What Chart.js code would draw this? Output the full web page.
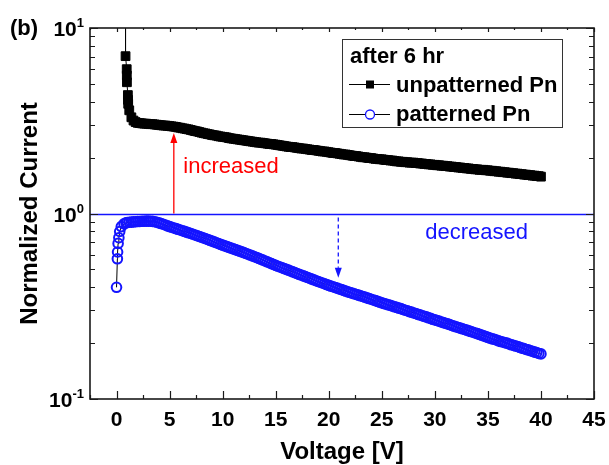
<!DOCTYPE html>
<html>
<head>
<meta charset="utf-8">
<script src="https://cdn.jsdelivr.net/npm/chart.js@4.4.0/dist/chart.umd.min.js"></script>
<style>
  html, body { margin: 0; padding: 0; background: #fff; }
  #wrap { width: 609px; height: 465px; }
</style>
</head>
<body>
<div id="wrap"><canvas id="c" width="609" height="465"></canvas></div>
<script>
// ---- data ----
// first points of each sweep (finer spacing near 0 V)
const unpatEarlyV = [0.85, 0.85, 0.96, 0.97, 0.98, 1.07, 1.08, 1.1];
const unpatEarlyI = [15, 7.05, 6.0, 5.55, 5.1, 4.35, 4.1, 3.9];
const patEarlyV = [0, 0.08, 0.1, 0.15, 0.22, 0.3, 0.45, 0.7, 0.9, 1.0];
const patEarlyI = [0.40, 0.57, 0.62, 0.69, 0.74, 0.80, 0.85, 0.88, 0.89, 0.895];

// regular sweep: 1.2 V .. 40 V in 0.2 V steps
const gridStart = 1.2;
const gridStep = 0.2;

const unpatI = [
  3.60, 3.30, 3.17, 3.11, 3.08,
  3.07, 3.06, 3.05, 3.05, 3.04,
  3.03, 3.03, 3.02, 3.01, 3.00,
  2.99, 2.98, 2.98, 2.97, 2.96,
  2.95, 2.94, 2.93, 2.91, 2.90,
  2.88, 2.87, 2.85, 2.84, 2.82,
  2.80, 2.78, 2.77, 2.75, 2.73,
  2.71, 2.70, 2.68, 2.67, 2.65,
  2.64, 2.63, 2.61, 2.60, 2.59,
  2.58, 2.57, 2.55, 2.54, 2.53,
  2.52, 2.51, 2.50, 2.49, 2.48,
  2.47, 2.46, 2.45, 2.44, 2.43,
  2.42, 2.41, 2.41, 2.40, 2.39,
  2.38, 2.37, 2.37, 2.36, 2.35,
  2.34, 2.33, 2.32, 2.31, 2.30,
  2.29, 2.28, 2.28, 2.27, 2.26,
  2.25, 2.24, 2.24, 2.23, 2.22,
  2.21, 2.20, 2.20, 2.19, 2.18,
  2.17, 2.16, 2.16, 2.15, 2.14,
  2.13, 2.12, 2.12, 2.11, 2.10,
  2.09, 2.08, 2.08, 2.07, 2.06,
  2.05, 2.04, 2.04, 2.03, 2.02,
  2.01, 2.01, 2.00, 1.99, 1.99,
  1.98, 1.97, 1.97, 1.96, 1.96,
  1.95, 1.94, 1.94, 1.93, 1.93,
  1.92, 1.91, 1.91, 1.90, 1.90,
  1.89, 1.89, 1.88, 1.88, 1.88,
  1.87, 1.87, 1.86, 1.86, 1.85,
  1.85, 1.84, 1.84, 1.83, 1.83,
  1.82, 1.82, 1.81, 1.81, 1.80,
  1.80, 1.79, 1.79, 1.78, 1.78,
  1.77, 1.77, 1.76, 1.76, 1.75,
  1.75, 1.74, 1.74, 1.73, 1.73,
  1.72, 1.72, 1.72, 1.71, 1.71,
  1.70, 1.70, 1.69, 1.69, 1.68,
  1.68, 1.67, 1.67, 1.66, 1.66,
  1.65, 1.65, 1.64, 1.64, 1.63,
  1.63, 1.62, 1.62, 1.61, 1.61,
  1.60, 1.60, 1.59, 1.59, 1.58
];

const patI = [
  .897, .899, .901, .903, .905,
  .906, .908, .909, .910, .910,
  .909, .907, .903, .897, .890,
  .883, .875, .867, .858, .850,
  .843, .836, .829, .822, .815,
  .808, .801, .794, .787, .780,
  .773, .766, .759, .752, .745,
  .738, .731, .724, .717, .710,
  .703, .696, .689, .682, .675,
  .669, .663, .657, .651, .645,
  .639, .633, .627, .621, .615,
  .609, .603, .597, .591, .585,
  .579, .573, .567, .561, .555,
  .549, .543, .537, .531, .525,
  .520, .515, .510, .505, .500,
  .495, .490, .485, .480, .475,
  .470, .466, .461, .457, .452,
  .448, .443, .439, .434, .430,
  .426, .422, .418, .414, .410,
  .406, .403, .399, .396, .392,
  .389, .385, .382, .378, .375,
  .372, .369, .366, .363, .360,
  .357, .354, .351, .348, .345,
  .342, .339, .336, .333, .330,
  .327, .325, .322, .320, .317,
  .314, .312, .309, .307, .304,
  .301, .299, .296, .294, .291,
  .289, .286, .284, .281, .279,
  .277, .274, .272, .269, .267,
  .265, .263, .260, .258, .256,
  .254, .252, .249, .247, .245,
  .243, .241, .239, .237, .235,
  .233, .231, .229, .227, .225,
  .223, .221, .219, .217, .215,
  .213, .211, .210, .208, .206,
  .204, .203, .201, .200, .198,
  .196, .195, .193, .192, .190,
  .188, .187, .185, .184, .182,
  .181, .179, .178, .176, .175
];

// axis ticks
const xMajor = [0, 5, 10, 15, 20, 25, 30, 35, 40, 45];
const xMinor = [-2.5, 2.5, 7.5, 12.5, 17.5, 22.5, 27.5, 32.5, 37.5, 42.5];
const yMajor = [0.1, 1, 10];
const yExp = ['-1', '0', '1'];
const yMinor = [0.2, 0.3, 0.4, 0.5, 0.6, 0.7, 0.8, 0.9, 2, 3, 4, 5, 6, 7, 8, 9];

const legendTitle = 'after 6 hr';
const seriesNames = ['unpatterned Pn', 'patterned Pn'];

// ---- build points ----
function toPoints(earlyV, earlyI, vals) {
  const pts = earlyV.map((v, i) => ({ x: v, y: earlyI[i] }));
  vals.forEach((v, i) => pts.push({ x: +(gridStart + i * gridStep).toFixed(2), y: v }));
  return pts;
}

const FONT = '"Liberation Sans", Arial, Helvetica, sans-serif';
const BLUE = '#1414ff';
const RED = '#ff0000';
const FRAME = '#1a1a1a';

function arrow(ctx, x, y0, y1, color, dashed) {
  const dir = y1 < y0 ? -1 : 1;
  const head = 10;
  ctx.strokeStyle = color;
  ctx.fillStyle = color;
  ctx.lineWidth = 1.3;
  ctx.setLineDash(dashed ? [4, 3] : []);
  ctx.beginPath();
  ctx.moveTo(x, y0);
  ctx.lineTo(x, y1 - dir * head);
  ctx.stroke();
  ctx.setLineDash([]);
  ctx.beginPath();
  ctx.moveTo(x, y1);
  ctx.lineTo(x - 3.5, y1 - dir * head);
  ctx.lineTo(x + 3.5, y1 - dir * head);
  ctx.closePath();
  ctx.fill();
}

const decor = {
  id: 'decor',
  beforeDatasetsDraw(chart) {
    const { ctx, chartArea: a, scales: { y } } = chart;
    const y1 = Math.round(y.getPixelForValue(1)) + 0.5;
    ctx.save();
    ctx.strokeStyle = BLUE;
    ctx.lineWidth = 1.3;
    ctx.beginPath();
    ctx.moveTo(a.left, y1);
    ctx.lineTo(a.right, y1);
    ctx.stroke();
    ctx.restore();
  },
  afterDatasetsDraw(chart) {
    const { ctx, chartArea: a, scales: { x, y } } = chart;
    ctx.save();

    // annotations
    const yOne = y.getPixelForValue(1);
    arrow(ctx, x.getPixelForValue(5.4), yOne, y.getPixelForValue(2.72), RED, false);
    arrow(ctx, x.getPixelForValue(20.9), yOne + 4, y.getPixelForValue(0.45), BLUE, true);

    ctx.font = '22px ' + FONT;
    ctx.textBaseline = 'middle';
    ctx.textAlign = 'left';
    ctx.fillStyle = RED;
    ctx.fillText('increased', x.getPixelForValue(6.3), y.getPixelForValue(1.79));
    ctx.fillStyle = BLUE;
    ctx.fillText('decreased', x.getPixelForValue(29.1), y.getPixelForValue(0.79));

    // frame
    ctx.strokeStyle = FRAME;
    ctx.lineWidth = 1.6;
    ctx.strokeRect(a.left, a.top, a.right - a.left, a.bottom - a.top);

    // ticks (inside, mirrored)
    ctx.lineWidth = 1.2;
    ctx.beginPath();
    xMajor.concat(xMinor).forEach(v => {
      const len = xMajor.includes(v) ? 8 : 4;
      const px = Math.round(x.getPixelForValue(v)) + 0.5;
      ctx.moveTo(px, a.bottom); ctx.lineTo(px, a.bottom - len);
      ctx.moveTo(px, a.top); ctx.lineTo(px, a.top + len * 0.5);
    });
    yMajor.concat(yMinor).forEach(v => {
      const len = yMajor.includes(v) ? 8 : 5;
      const py = Math.round(y.getPixelForValue(v)) + 0.5;
      ctx.moveTo(a.left, py); ctx.lineTo(a.left + len, py);
      ctx.moveTo(a.right, py); ctx.lineTo(a.right - len, py);
    });
    ctx.stroke();

    // tick labels
    ctx.fillStyle = '#000';
    ctx.font = 'bold 21px ' + FONT;
    ctx.textAlign = 'center';
    ctx.textBaseline = 'alphabetic';
    xMajor.forEach(v => ctx.fillText(String(v), x.getPixelForValue(v), 426));

    yMajor.forEach((v, i) => {
      const py = y.getPixelForValue(v);
      ctx.font = 'bold 13px ' + FONT;
      const sw = ctx.measureText(yExp[i]).width;
      ctx.textAlign = 'left';
      ctx.fillText(yExp[i], a.left - 6 - sw, py - 1);
      ctx.font = 'bold 21px ' + FONT;
      ctx.textAlign = 'right';
      ctx.fillText('10', a.left - 6 - sw, py + 8);
    });

    // axis titles
    ctx.font = 'bold 24px ' + FONT;
    ctx.textAlign = 'center';
    ctx.fillText('Voltage [V]', (a.left + a.right) / 2, 459);
    ctx.save();
    ctx.translate(37, (a.top + a.bottom) / 2);
    ctx.rotate(-Math.PI / 2);
    ctx.fillText('Normalized Current', 0, 0);
    ctx.restore();

    // panel label
    ctx.textAlign = 'left';
    ctx.font = 'bold 22px ' + FONT;
    ctx.fillText('(b)', 10, 35);

    // legend
    const lx = 342, ly = 39, lw = 220, lh = 88;
    ctx.fillStyle = '#fff';
    ctx.fillRect(lx, ly, lw, lh);
    ctx.strokeStyle = '#333';
    ctx.lineWidth = 1;
    ctx.strokeRect(lx + 0.5, ly + 0.5, lw, lh);
    ctx.fillStyle = '#000';
    ctx.font = 'bold 22px ' + FONT;
    ctx.fillText(legendTitle, 350, 63);
    const rows = [84.5, 114.5];
    const baselines = [92, 121];
    chart.data.datasets.forEach((ds, i) => {
      const ry = rows[i];
      ctx.strokeStyle = ds.borderColor;
      ctx.lineWidth = 1;
      ctx.beginPath();
      ctx.moveTo(349, ry); ctx.lineTo(390, ry);
      ctx.stroke();
      if (ds.pointStyle === 'rect') {
        ctx.fillStyle = ds.pointBackgroundColor;
        ctx.fillRect(366, ry - 4, 8, 8);
      } else {
        ctx.fillStyle = '#fff';
        ctx.strokeStyle = ds.pointBorderColor;
        ctx.lineWidth = 1.3;
        ctx.beginPath();
        ctx.arc(370, ry, 4.5, 0, Math.PI * 2);
        ctx.fill();
        ctx.stroke();
      }
      ctx.fillStyle = '#000';
      ctx.font = 'bold 22px ' + FONT;
      ctx.fillText(seriesNames[i], 396, baselines[i]);
    });

    ctx.restore();
  }
};

new Chart(document.getElementById('c'), {
  type: 'scatter',
  data: {
    datasets: [
      {
        label: seriesNames[0],
        data: toPoints(unpatEarlyV, unpatEarlyI, unpatI),
        showLine: true,
        borderColor: '#000',
        borderWidth: 1,
        pointStyle: 'rect',
        pointRadius: 6.2,
        pointBackgroundColor: '#000',
        pointBorderColor: '#000',
        pointBorderWidth: 1
      },
      {
        label: seriesNames[1],
        data: toPoints(patEarlyV, patEarlyI, patI),
        showLine: true,
        borderColor: '#000',
        borderWidth: 1,
        pointStyle: 'circle',
        pointRadius: 4.8,
        pointBackgroundColor: 'rgba(255,255,255,0)',
        pointBorderColor: BLUE,
        pointBorderWidth: 2
      }
    ]
  },
  options: {
    responsive: false,
    devicePixelRatio: 1,
    animation: false,
    layout: { padding: { top: 28, right: 15, left: 0, bottom: 0 } },
    plugins: { legend: { display: false }, tooltip: { enabled: false } },
    scales: {
      x: {
        type: 'linear', min: -2.5, max: 45,
        ticks: { display: false }, grid: { display: false }, border: { display: false },
        afterFit: s => { s.height = 66; }
      },
      y: {
        type: 'logarithmic', min: 0.1, max: 10,
        ticks: { display: false }, grid: { display: false }, border: { display: false },
        afterFit: s => { s.width = 90; }
      }
    }
  },
  plugins: [decor]
});
</script>
</body>
</html>
